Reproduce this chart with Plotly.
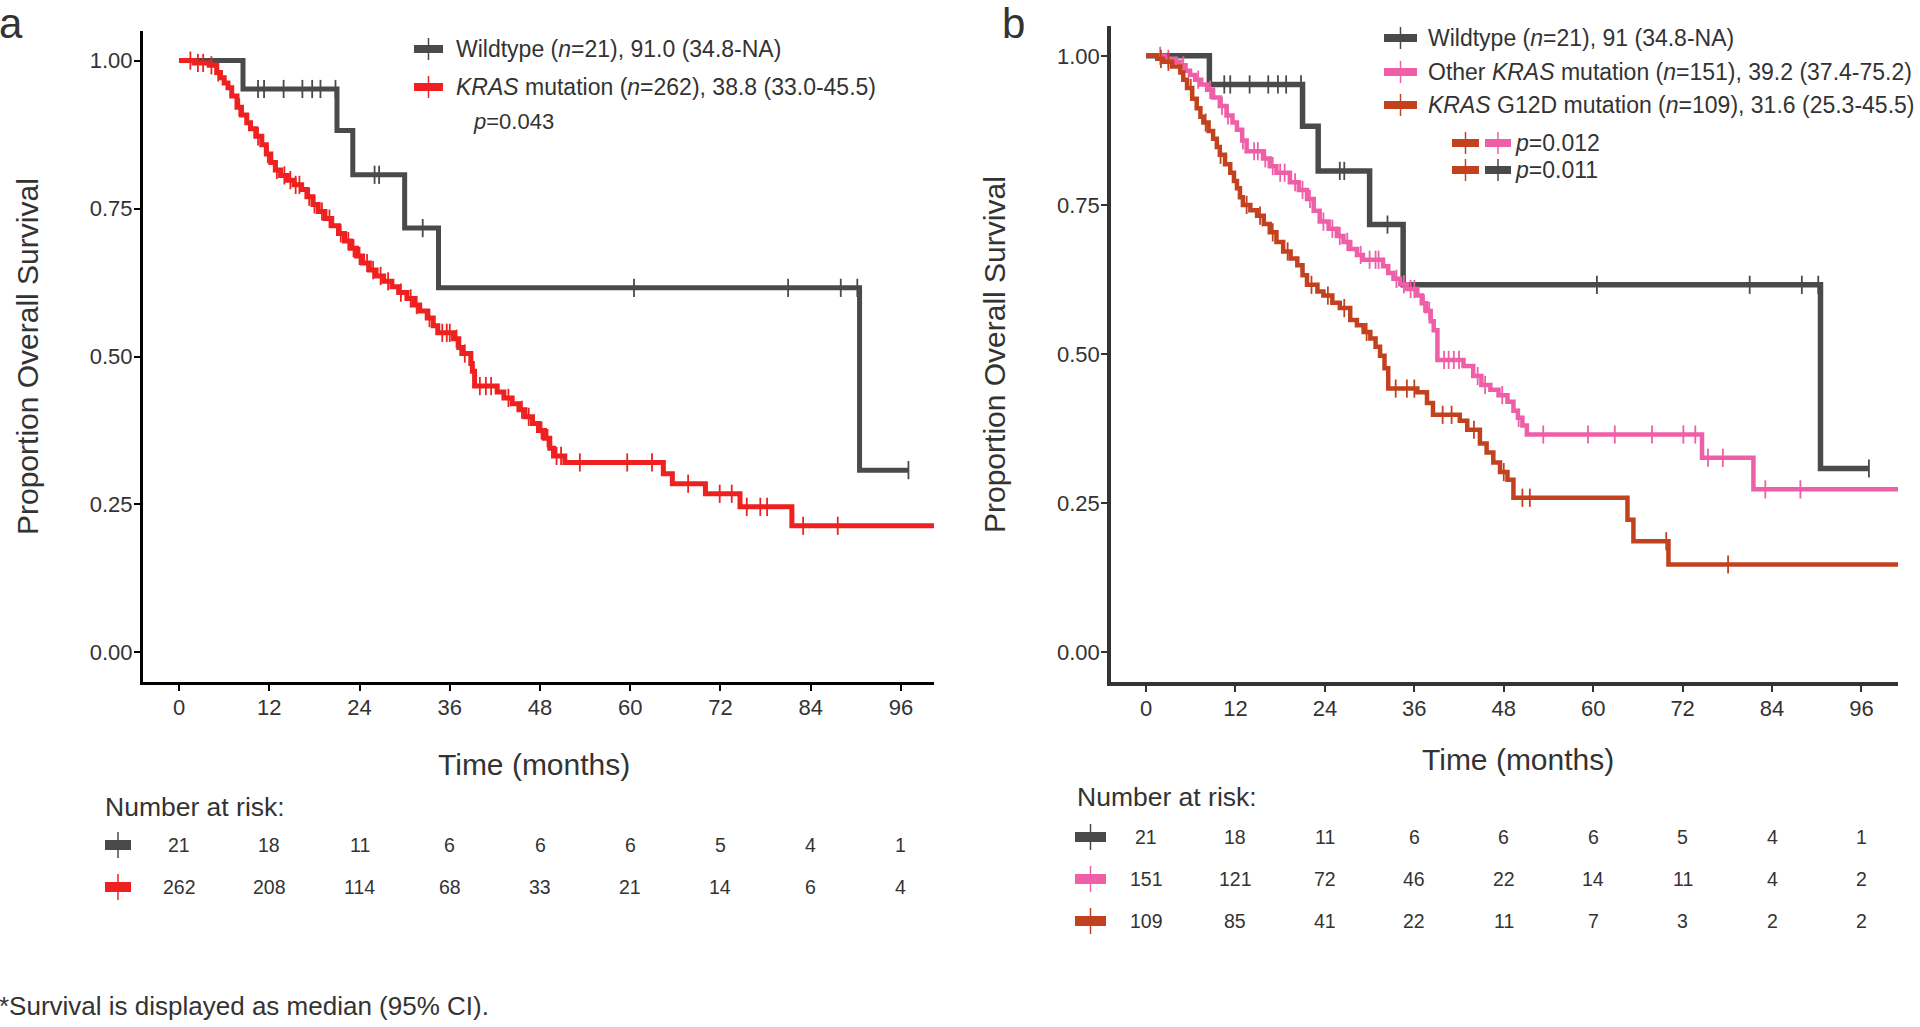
import plotly.graph_objects as go

# ---------------- data ----------------
months_ticks = [0, 12, 24, 36, 48, 60, 72, 84, 96]
y_ticks = [0.0, 0.25, 0.5, 0.75, 1.0]

# Wildtype (same cohort shown in both panels)
wt_time = [0, 8.5, 21.0, 23.1, 30.0, 34.5, 90.5]
wt_surv = [1.0, 0.952, 0.882, 0.807, 0.717, 0.616, 0.308]
wt_cens = [10.5, 11.3, 13.9, 16.4, 17.7, 18.8, 20.8, 26.0, 26.6, 32.4, 60.5, 81.0, 88.0, 90.2, 97.0]
wt_end = 97.0

# Panel a: all KRAS mutations
kras_time = [0, 2.0, 4.0, 5.0, 5.5, 6.0, 6.5, 7.0, 7.7, 8.3, 9.0, 9.5, 10.2, 11.0, 11.6, 12.2,
             12.8, 13.5, 14.4, 15.3, 16.3, 17.0, 17.8, 18.5, 19.4, 20.3, 21.2, 22.0, 22.8, 23.6,
             24.4, 25.3, 26.2, 27.2, 28.3, 29.2, 30.3, 31.2, 32.0, 33.0, 33.8, 34.4, 36.5, 37.2,
             37.6, 38.8, 39.0, 39.3, 42.3, 43.2, 44.3, 45.2, 46.0, 47.0, 47.8, 48.6, 49.3, 49.8,
             51.3, 64.4, 65.6, 70.0, 74.6, 81.5]
kras_surv = [1.0, 0.996, 0.992, 0.980, 0.971, 0.962, 0.954, 0.940, 0.921, 0.908, 0.895, 0.885,
             0.872, 0.858, 0.842, 0.828, 0.815, 0.806, 0.798, 0.790, 0.782, 0.770, 0.757, 0.745,
             0.733, 0.721, 0.708, 0.695, 0.683, 0.670, 0.658, 0.646, 0.636, 0.627, 0.618, 0.608,
             0.598, 0.587, 0.577, 0.565, 0.552, 0.540, 0.530, 0.515, 0.505, 0.488, 0.475, 0.450,
             0.440, 0.430, 0.420, 0.410, 0.398, 0.387, 0.375, 0.362, 0.345, 0.332, 0.321, 0.302,
             0.285, 0.268, 0.246, 0.214]
kras_cens = [1.5, 2.5, 3.2, 4.3, 5.2, 8.0, 10.5, 11.8, 13.0, 14.0, 14.8, 15.5, 16.0, 17.3, 18.0,
             19.0, 20.0, 21.5, 22.5, 23.2, 24.0, 25.0, 25.8, 26.8, 27.8, 29.5, 30.8, 31.6, 33.3,
             35.0, 35.6, 36.0, 36.9, 38.0, 40.0, 40.8, 41.5, 43.8, 45.6, 46.5, 48.2, 49.0, 50.2,
             50.8, 53.3, 59.6, 62.9, 67.7, 71.9, 73.5, 75.5, 77.3, 78.2, 83.0, 87.6]
kras_end = 100.4

# Panel b: other KRAS mutations
oth_time = [0, 2.5, 4.0, 4.6, 5.3, 5.9, 6.6, 7.4, 8.2, 9.0, 9.9, 10.8, 11.6, 12.2, 12.9, 13.5,
            15.7, 16.6, 17.5, 19.3, 20.5, 21.6, 22.5, 23.3, 24.5, 25.6, 26.5, 27.4, 28.3, 29.1,
            31.8, 32.5, 33.2, 34.1, 35.0, 36.4, 37.0, 37.6, 38.2, 38.6, 39.1, 42.6, 43.9, 45.0,
            46.2, 47.3, 48.5, 49.3, 49.9, 50.5, 51.1, 74.6, 81.5]
oth_surv = [1.0, 0.995, 0.990, 0.984, 0.975, 0.968, 0.960, 0.952, 0.943, 0.930, 0.916, 0.900,
            0.888, 0.876, 0.858, 0.840, 0.828, 0.815, 0.804, 0.788, 0.775, 0.760, 0.740, 0.722,
            0.710, 0.698, 0.688, 0.676, 0.666, 0.658, 0.647, 0.636, 0.626, 0.617, 0.609, 0.598,
            0.585, 0.572, 0.555, 0.540, 0.490, 0.480, 0.463, 0.448, 0.440, 0.431, 0.420, 0.405,
            0.393, 0.380, 0.365, 0.326, 0.273]
oth_cens = [1.9, 3.0, 5.0, 7.0, 8.6, 10.2, 11.0, 13.0, 14.5, 15.0, 16.0, 17.0, 18.0, 18.6, 20.0,
            21.0, 22.0, 23.8, 25.0, 26.0, 27.0, 28.8, 30.0, 30.8, 31.2, 33.6, 34.6, 35.5, 36.0,
            37.3, 38.0, 40.0, 40.6, 41.3, 42.0, 44.5, 45.5, 47.8, 50.0, 53.3, 59.3, 62.9, 67.9,
            72.1, 73.7, 75.4, 77.4, 83.1, 87.8]
oth_end = 100.9

# Panel b: KRAS G12D
g12d_time = [0, 1.5, 2.3, 3.5, 4.6, 5.0, 5.5, 6.2, 6.8, 7.3, 7.7, 8.4, 9.0, 9.5, 9.9, 10.6, 11.3,
             11.8, 12.2, 12.6, 13.0, 14.0, 14.9, 15.8, 16.6, 17.5, 18.4, 19.4, 20.3, 21.0, 21.6,
             23.0, 23.8, 25.0, 26.0, 27.4, 28.3, 29.2, 30.1, 30.8, 31.4, 32.0, 32.5, 36.4, 37.7,
             38.5, 42.1, 43.1, 44.8, 45.7, 46.6, 47.5, 48.5, 49.3, 64.6, 65.4, 70.1]
g12d_surv = [1.0, 0.995, 0.990, 0.982, 0.972, 0.960, 0.946, 0.928, 0.912, 0.898, 0.888, 0.874,
             0.861, 0.847, 0.834, 0.818, 0.804, 0.790, 0.778, 0.763, 0.750, 0.741, 0.732, 0.718,
             0.704, 0.688, 0.672, 0.660, 0.649, 0.632, 0.616, 0.605, 0.598, 0.586, 0.577, 0.557,
             0.548, 0.537, 0.526, 0.512, 0.497, 0.476, 0.442, 0.436, 0.418, 0.398, 0.388, 0.373,
             0.350, 0.335, 0.318, 0.302, 0.289, 0.259, 0.222, 0.186, 0.147]
g12d_cens = [2.0, 3.0, 6.0, 8.0, 10.0, 13.5, 15.3, 17.0, 19.0, 22.2, 24.4, 26.6, 29.6, 33.5, 35.0,
             36.0, 39.8, 41.0, 44.0, 48.0, 50.5, 51.5, 69.8, 78.1]
g12d_end = 100.9

# Number at risk tables
risk_a_wt = [21, 18, 11, 6, 6, 6, 5, 4, 1]
risk_a_kras = [262, 208, 114, 68, 33, 21, 14, 6, 4]
risk_b_wt = [21, 18, 11, 6, 6, 6, 5, 4, 1]
risk_b_oth = [151, 121, 72, 46, 22, 14, 11, 4, 2]
risk_b_g12d = [109, 85, 41, 22, 11, 7, 3, 2, 2]

# Legend labels
lab_a = ["Wildtype (<i>n</i>=21), 91.0 (34.8-NA)",
         "<i>KRAS</i> mutation (<i>n</i>=262), 38.8 (33.0-45.5)"]
p_a = "<i>p</i>=0.043"
lab_b = ["Wildtype (<i>n</i>=21), 91 (34.8-NA)",
         "Other <i>KRAS</i> mutation (<i>n</i>=151), 39.2 (37.4-75.2)",
         "<i>KRAS</i> G12D mutation (<i>n</i>=109), 31.6 (25.3-45.5)"]
p_b = ["<i>p</i>=0.012", "<i>p</i>=0.011"]

# ---------------- styling ----------------
W, H = 1920, 1027
C_WT = "#4a4a4a"
C_KRAS = "#ee2020"
C_OTH = "#ef5fa7"
C_G12D = "#c2421f"
FONT = "Liberation Sans, Arial, sans-serif"
TXT = "#333333"


def px(xp):
    return xp / W


def py(yp):
    return 1 - yp / H


def step_val(times, surv, t):
    v = surv[0]
    for ti, si in zip(times, surv):
        if ti <= t:
            v = si
        else:
            break
    return v


fig = go.Figure()


def add_curve(times, surv, cens, end, color, width, xa, ya):
    xs = list(times) + [end]
    ys = list(surv) + [surv[-1]]
    fig.add_trace(go.Scatter(x=xs, y=ys, mode="lines", line=dict(color=color, width=width, shape="hv"),
                             xaxis=xa, yaxis=ya, showlegend=False, hoverinfo="skip"))
    cy = [step_val(times, surv, t) for t in cens]
    fig.add_trace(go.Scatter(x=cens, y=cy, mode="markers",
                             marker=dict(symbol="line-ns", size=13, line=dict(color=color, width=1.8)),
                             xaxis=xa, yaxis=ya, showlegend=False, hoverinfo="skip"))


# panel a
add_curve(wt_time, wt_surv, wt_cens, wt_end, C_WT, 5, "x", "y")
add_curve(kras_time, kras_surv, kras_cens, kras_end, C_KRAS, 5, "x", "y")
# panel b
add_curve(wt_time, wt_surv, wt_cens, wt_end, C_WT, 5.5, "x2", "y2")
add_curve(oth_time, oth_surv, oth_cens, oth_end, C_OTH, 4.5, "x2", "y2")
add_curve(g12d_time, g12d_surv, g12d_cens, g12d_end, C_G12D, 4.5, "x2", "y2")

axis_common = dict(showgrid=False, zeroline=False, showline=True, ticks="outside", ticklen=6,
                   tickwidth=2, tickfont=dict(family=FONT, size=22, color=TXT))

fig.update_layout(
    width=W, height=H, margin=dict(l=0, r=0, t=0, b=0),
    paper_bgcolor="white", plot_bgcolor="white", showlegend=False,
    xaxis=dict(domain=[px(143), px(934)], range=[-4.8, 100.4], tickvals=months_ticks,
               anchor="y", linecolor="#000", linewidth=3, tickcolor="#000", ticklabelstandoff=-2,
               **axis_common),
    yaxis=dict(domain=[py(682), py(31)], range=[-0.05, 1.05], tickvals=y_ticks, tickformat=".2f",
               anchor="x", linecolor="#000", linewidth=3, tickcolor="#000", ticklabelstandoff=-3,
               **axis_common),
    xaxis2=dict(domain=[px(1111), px(1898)], range=[-4.7, 100.9], tickvals=months_ticks,
                anchor="y2", linecolor="#333", linewidth=3.5, tickcolor="#333", ticklabelstandoff=-2,
                **axis_common),
    yaxis2=dict(domain=[py(682), py(26)], range=[-0.05, 1.05], tickvals=y_ticks, tickformat=".2f",
                anchor="x2", linecolor="#333", linewidth=3.5, tickcolor="#333", ticklabelstandoff=-3,
                **axis_common),
)

ann = []
shapes = []


def text(x, y, s, size, xanchor="left", xref="paper", angle=0, color=TXT, yanchor="middle"):
    ann.append(dict(x=x, y=y, xref=xref, yref="paper", text=s, showarrow=False, xanchor=xanchor,
                    yanchor=yanchor, textangle=angle, font=dict(family=FONT, size=size, color=color)))


def symbol(x0, x1, yc, color, thick=8, tick_h=22):
    shapes.append(dict(type="line", xref="paper", yref="paper", x0=px(x0), x1=px(x1), y0=py(yc), y1=py(yc),
                       line=dict(color=color, width=thick)))
    xm = (x0 + x1) / 2
    shapes.append(dict(type="line", xref="paper", yref="paper", x0=px(xm), x1=px(xm),
                       y0=py(yc - tick_h / 2), y1=py(yc + tick_h / 2), line=dict(color=color, width=1.5)))


# panel labels
text(px(-3), py(-2), "a", 42, yanchor="top")
text(px(1000), py(-2), "b", 42, yanchor="top")

# axis titles
text(px(534), py(764), "Time (months)", 30, xanchor="center")
text(px(1518), py(759), "Time (months)", 30, xanchor="center")
text(px(27), py(357), "Proportion Overall Survival", 30, xanchor="center", angle=-90)
text(px(994), py(355), "Proportion Overall Survival", 30, xanchor="center", angle=-90)

# legends panel a
a_rows = [49, 87]
for yy, lab, col in zip(a_rows, lab_a, [C_WT, C_KRAS]):
    symbol(414, 443, yy, col)
    text(px(454), py(yy), lab, 23)
text(px(471), py(121), p_a, 22)

# legends panel b
b_rows = [38, 72, 105]
for yy, lab, col in zip(b_rows, lab_b, [C_WT, C_OTH, C_G12D]):
    symbol(1384, 1417, yy, col)
    text(px(1426), py(yy), lab, 23)
p_rows = [143, 170]
for yy, lab, col2 in zip(p_rows, p_b, [C_OTH, C_WT]):
    symbol(1452, 1479, yy, C_G12D)
    symbol(1485, 1511, yy, col2)
    text(px(1513), py(yy), lab, 23)

# risk tables
text(px(103), py(807), "Number at risk:", 26.5)
for yy, vals, col in zip([845, 887], [risk_a_wt, risk_a_kras], [C_WT, C_KRAS]):
    symbol(105, 131, yy, col, thick=10, tick_h=26)
    for t, v in zip(months_ticks, vals):
        text(t, py(yy), str(v), 19.5, xanchor="center", xref="x")

text(px(1075), py(797), "Number at risk:", 26.5)
for yy, vals, col in zip([837, 879, 921], [risk_b_wt, risk_b_oth, risk_b_g12d], [C_WT, C_OTH, C_G12D]):
    symbol(1075, 1106, yy, col, thick=10, tick_h=26)
    for t, v in zip(months_ticks, vals):
        text(t, py(yy), str(v), 19.5, xanchor="center", xref="x2")

# footnote
text(px(-3), py(1006), "*Survival is displayed as median (95% CI).", 26)

fig.update_layout(annotations=ann, shapes=shapes)
fig.write_html("out.html", config={"displayModeBar": False},
               post_script="document.body.style.margin='0px';document.body.style.overflow='hidden';")
